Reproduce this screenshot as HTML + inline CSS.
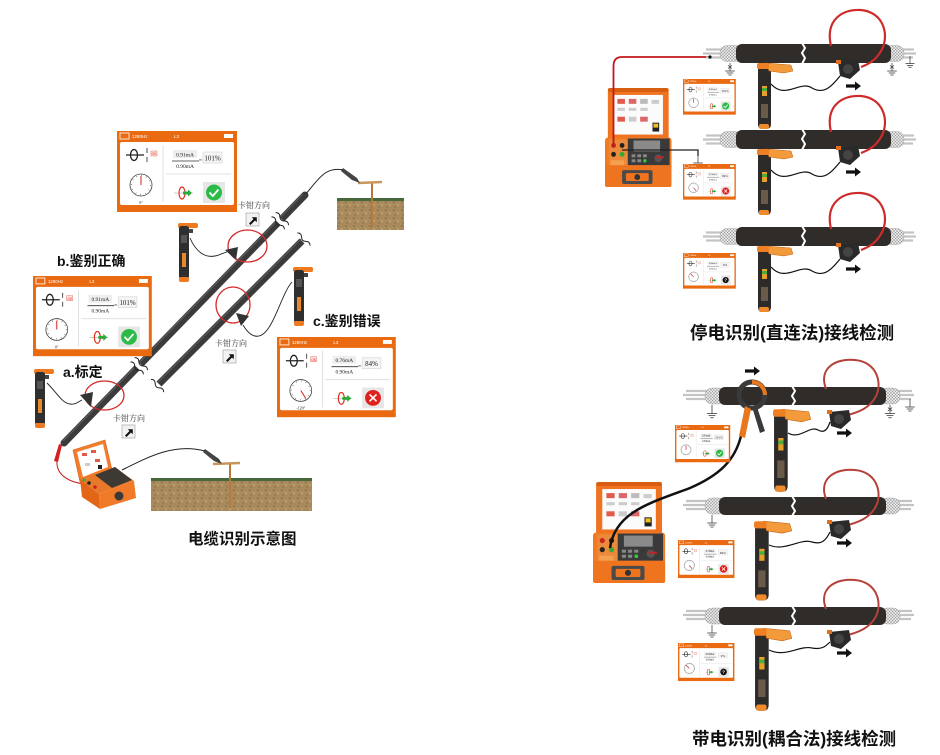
<!DOCTYPE html>
<html><head><meta charset="utf-8"><style>
html,body{margin:0;padding:0;background:#fff;}
svg{display:block;}
.cap{font-family:"Liberation Sans","Noto Sans CJK SC",sans-serif;font-weight:bold;fill:#111;}
.lab{font-family:"Liberation Sans","Noto Sans CJK SC",sans-serif;font-weight:bold;fill:#111;font-size:14px;}
.kq{font-family:"Liberation Serif","Noto Serif CJK SC",serif;font-size:8px;fill:#333;}
.st{font-family:"Liberation Serif",serif;fill:#222;}
.sh{font-family:"Liberation Sans",sans-serif;fill:#fff;}
</style></head><body>
<svg width="940" height="755" viewBox="0 0 940 755" xmlns="http://www.w3.org/2000/svg">
<defs>
 <pattern id="soil" width="8" height="8" patternUnits="userSpaceOnUse"><rect width="8" height="8" fill="#a88a5c"/><circle cx="2" cy="2" r="1" fill="#917449"/><circle cx="6" cy="5" r="1.2" fill="#bb9e70"/><circle cx="3" cy="7" r="0.8" fill="#8c6f45"/></pattern>
 <pattern id="hatch" width="3" height="3" patternUnits="userSpaceOnUse"><rect width="3" height="3" fill="#e6e6e6"/><path d="M0,0 L3,3 M3,0 L0,3" stroke="#999" stroke-width="0.5"/></pattern>
 <g id="scr">
  <rect width="120" height="81" fill="#ea6a12"/>
  <rect x="3" y="2" width="9" height="6" fill="none" stroke="#fff" stroke-width="0.8"/>
  <rect x="107" y="3" width="9" height="4" fill="#fff"/>
  <rect x="3" y="11" width="114" height="63" rx="2" fill="#fff"/>
  <line x1="46" y1="14" x2="46" y2="71" stroke="#e0e0e0"/>
  <line x1="49" y1="43" x2="114" y2="43" stroke="#e0e0e0"/>
  <ellipse cx="17" cy="24" rx="3.5" ry="5.5" fill="none" stroke="#222" stroke-width="1.3"/>
  <line x1="9" y1="24" x2="27" y2="24" stroke="#222" stroke-width="1.3"/>
  <line x1="30" y1="17" x2="30" y2="22" stroke="#222" stroke-width="0.8"/>
  <line x1="30" y1="26" x2="30" y2="31" stroke="#222" stroke-width="0.8"/>
  <rect x="34" y="20" width="6" height="5" fill="#fde4e0" stroke="#e05040" stroke-width="0.4"/>
  <circle cx="24" cy="54" r="11" fill="#fff" stroke="#444" stroke-width="0.8"/>
  <circle cx="24" cy="54" r="9.5" fill="none" stroke="#555" stroke-width="1.2" stroke-dasharray="0.6 4.37"/>
  <rect x="56" y="19" width="24" height="8" fill="#eee"/>
  <line x1="55" y1="30" x2="82" y2="30" stroke="#333" stroke-width="0.8"/>
  <rect x="86" y="21" width="19" height="11" fill="#f4f4f4" stroke="#ccc" stroke-width="0.5"/>
  <line x1="57" y1="62" x2="76" y2="62" stroke="#999" stroke-width="0.6"/>
  <ellipse cx="65" cy="62" rx="3" ry="6" fill="none" stroke="#e0301e" stroke-width="1.2"/>
  <path d="M66,60.5 H71 V58.5 L75,62 L71,65.5 V63.5 H66 Z" fill="#2caa3a"/>
  <rect x="86" y="51" width="22" height="21" fill="#e6e6e6"/>
 </g>
 <g id="ok"><circle cx="97" cy="61.5" r="8" fill="#2dbb48"/><path d="M92.5,61.5 L95.8,65 L101.5,58.5" stroke="#fff" stroke-width="1.8" fill="none"/></g>
 <g id="bad"><circle cx="97" cy="61.5" r="8" fill="#e0201c"/><path d="M93.5,58 L100.5,65 M100.5,58 L93.5,65" stroke="#fff" stroke-width="1.6"/></g>
 <g id="unk"><circle cx="97" cy="61.5" r="7" fill="#111"/></g>
 <g id="gnd"><line x1="0" y1="0" x2="0" y2="10" stroke="#333" stroke-width="0.9"/><path d="M-6,10 H6 M-4,12.5 H4 M-2,15 H2" stroke="#333" stroke-width="0.9"/></g>
 <g id="gndx"><use href="#gnd"/><path d="M-2.5,3 L2.5,7 M2.5,3 L-2.5,7" stroke="#333" stroke-width="0.8"/></g>
 <g id="arr"><path d="M0,-1.6 H9 V-4.5 L15,0 L9,4.5 V1.6 H0 Z" fill="#111"/></g>
 <g id="kbox"><rect x="0" y="0" width="13" height="13" fill="#f2f2f2" stroke="#999" stroke-width="0.6"/><path d="M3,10.5 L7.5,6 L5.8,4.2 H10.8 V9.2 L9,7.5 L4.5,12 Z" fill="#111"/></g>
 <g id="hhL">
  <rect x="1" y="0" width="20" height="5" rx="2" fill="#f07a20"/>
  <rect x="2" y="3" width="10" height="53" rx="2.5" fill="#2f2f2f"/>
  <rect x="4" y="12" width="6" height="8" fill="#555"/>
  <rect x="5" y="30" width="4" height="14" fill="#e88a2a"/>
  <rect x="2" y="54" width="10" height="5" rx="2" fill="#ee7a22"/>
  <rect x="12" y="6" width="4" height="4" fill="#444"/>
 </g>
 <g id="hhR">
  <path d="M1,4 H14 V62 Q14,67 9,67 H5 Q1,67 1,62 Z" fill="#2d2b29"/>
  <path d="M9,1 L34,3 L36,9 L27,11 L12,9 Z" fill="#f39a3a" stroke="#c06010" stroke-width="0.5"/>
  <rect x="0" y="1" width="12" height="6" rx="2" fill="#ee7f22"/>
  <rect x="5" y="24" width="5" height="10" fill="#e7a02a"/>
  <rect x="5" y="26" width="5" height="3" fill="#4caf3a"/>
  <rect x="4" y="42" width="7" height="14" fill="#6a5a4a"/>
  <rect x="2" y="62" width="10" height="5" rx="2" fill="#f08a2a"/>
 </g>
 <g id="sen"><path d="M2,2 L22,0 L24,10 L14,19 L4,16 Z" fill="#2a2a2a"/><circle cx="12" cy="9" r="5" fill="#444"/><rect x="0" y="0" width="5" height="4" fill="#e07020"/></g>
 <g id="ins">
  <rect x="3" y="0" width="64" height="52" rx="3" fill="#f07322"/>
  <rect x="3" y="0" width="64" height="4" rx="2" fill="#d85e12"/>
  <rect x="9" y="7" width="52" height="40" fill="#fbfbfb"/>
  <rect x="13" y="11" width="8" height="5" fill="#e35a4a"/><rect x="25" y="11" width="8" height="5" fill="#dd6666"/><rect x="37" y="11" width="8" height="5" fill="#bbb"/><rect x="49" y="12" width="8" height="4" fill="#ccc"/>
  <rect x="13" y="20" width="8" height="3" fill="#ccc"/><rect x="25" y="20" width="8" height="3" fill="#ccc"/><rect x="37" y="20" width="8" height="3" fill="#ccc"/>
  <rect x="13" y="29" width="8" height="5" fill="#e35a4a"/><rect x="25" y="29" width="8" height="5" fill="#ccc"/><rect x="37" y="29" width="8" height="5" fill="#dd6666"/>
  <rect x="50" y="35" width="7" height="9" fill="#222"/><rect x="51" y="36" width="5" height="4" fill="#f0c020"/>
  <rect x="0" y="50" width="70" height="50" rx="3" fill="#f27a22"/>
  <rect x="4" y="52" width="20" height="28" fill="#ea8a3a"/>
  <circle cx="9" cy="58" r="2.5" fill="#c22"/><circle cx="18" cy="58" r="2.5" fill="#222"/><circle cx="9" cy="67" r="2.5" fill="#222"/><circle cx="18" cy="67" r="2.5" fill="#3a3"/>
  <rect x="6" y="73" width="14" height="5" fill="#f5a050"/>
  <rect x="24" y="51" width="44" height="27" fill="#3a3a3a"/>
  <rect x="30" y="53" width="28" height="11" fill="#8a8a8a"/>
  <rect x="28" y="67" width="4" height="3" fill="#888"/><rect x="34" y="67" width="4" height="3" fill="#888"/><rect x="40" y="67" width="4" height="3" fill="#888"/><rect x="28" y="72" width="4" height="3" fill="#888"/><rect x="34" y="72" width="4" height="3" fill="#888"/><circle cx="42" cy="73.5" r="1.8" fill="#3c3"/><circle cx="56" cy="71" r="4" fill="#555"/><rect x="54" y="69" width="8" height="2" fill="#c22"/>
  <rect x="0" y="78" width="70" height="22" rx="2" fill="#ee7420"/>
  <rect x="18" y="83" width="32" height="14" rx="2" fill="#4a4a4a"/>
  <rect x="22" y="86" width="24" height="8" rx="1" fill="#ee7420"/>
  <circle cx="34" cy="90" r="3" fill="#333"/>
 </g>
 <g id="cabT">
  <path d="M706,49.5 H724 M703,53.5 H724 M706,57.5 H724" stroke="#c4c4c4" stroke-width="2.2"/>
  <path d="M898,49.5 H914 M898,53.5 H916 M898,57.5 H913" stroke="#c4c4c4" stroke-width="2.2"/>
  <rect x="720" y="45.5" width="22" height="16" rx="7" fill="url(#hatch)" stroke="#aaa" stroke-width="0.5"/>
  <rect x="884" y="45.5" width="20" height="16" rx="7" fill="url(#hatch)" stroke="#aaa" stroke-width="0.5"/>
  <rect x="736" y="44" width="155" height="19" rx="6" fill="#2f2c2a"/>
  <path d="M802,43 l3,5 l-3,5 l3,5 l-3,6" stroke="#fff" stroke-width="2" fill="none"/>
 </g>
 <g id="cabB">
  <path d="M686,391 H710 M683,395 H710 M686,399 H710" stroke="#c4c4c4" stroke-width="2.2"/>
  <path d="M896,391 H912 M896,395 H914 M896,399 H911" stroke="#c4c4c4" stroke-width="2.2"/>
  <rect x="705" y="388" width="21" height="16" rx="7" fill="url(#hatch)" stroke="#aaa" stroke-width="0.5"/>
  <rect x="880" y="388" width="20" height="16" rx="7" fill="url(#hatch)" stroke="#aaa" stroke-width="0.5"/>
  <rect x="719" y="387" width="167" height="18" rx="6" fill="#2f2c2a"/>
  <path d="M792,386 l3,5 l-3,5 l3,5 l-3,5" stroke="#fff" stroke-width="2" fill="none"/>
 </g>
</defs>

<rect width="940" height="755" fill="#fff"/>

<!-- ============ LEFT DIAGRAM ============ -->
<rect x="337" y="200" width="67" height="30" fill="url(#soil)"/>
<rect x="337" y="198" width="67" height="3" fill="#47683a"/>
<rect x="151" y="480" width="161" height="31" fill="url(#soil)"/>
<rect x="151" y="478" width="161" height="3" fill="#47683a"/>
<line x1="372" y1="182" x2="372" y2="228" stroke="#b5793a" stroke-width="2"/>
<line x1="358" y1="183" x2="382" y2="182" stroke="#c8955a" stroke-width="2.5"/>
<path d="M343,168 L357,178 L360,183 L352,180 L341,171 Z" fill="#444"/>
<path d="M305,195 C318,180 325,166 343,170" stroke="#222" stroke-width="1" fill="none"/>
<line x1="230" y1="463" x2="230" y2="508" stroke="#b5793a" stroke-width="2"/>
<line x1="213" y1="464" x2="240" y2="463" stroke="#c8955a" stroke-width="2.5"/>
<path d="M205,449 L219,459 L222,464 L214,461 L203,452 Z" fill="#444"/>
<path d="M122,470 C150,456 175,443 205,451" stroke="#222" stroke-width="1" fill="none"/>

<line x1="64" y1="443" x2="305" y2="195" stroke="#3b3b3b" stroke-width="7" stroke-linecap="round"/>
<line x1="63" y1="441" x2="303" y2="194" stroke="#5c5c5c" stroke-width="1.2"/>
<line x1="159" y1="384" x2="302" y2="241" stroke="#3b3b3b" stroke-width="7"/>
<line x1="158" y1="382" x2="301" y2="239" stroke="#5c5c5c" stroke-width="1.2"/>
<g transform="translate(139,366) rotate(-45.8)"><rect x="-2.5" y="-7" width="5" height="14" fill="#fff"/><path d="M-3,-9 q3,3 0,6 q-3,3 0,6 q3,3 0,6" stroke="#222" fill="none"/><path d="M3,-9 q3,3 0,6 q-3,3 0,6 q3,3 0,6" stroke="#222" fill="none"/></g>
<g transform="translate(280,221) rotate(-45.8)"><rect x="-2.5" y="-7" width="5" height="14" fill="#fff"/><path d="M-3,-9 q3,3 0,6 q-3,3 0,6 q3,3 0,6" stroke="#222" fill="none"/><path d="M3,-9 q3,3 0,6 q-3,3 0,6 q3,3 0,6" stroke="#222" fill="none"/></g>
<g transform="translate(158,385) rotate(-45)"><path d="M-1,-9 q3,3 0,6 q-3,3 0,6 q3,3 0,6" stroke="#222" fill="none"/></g>
<g transform="translate(303,240) rotate(-45)"><path d="M1,-9 q3,3 0,6 q-3,3 0,6 q3,3 0,6" stroke="#222" fill="none"/></g>

<path d="M57,460 C55,480 80,486 98,484" stroke="#c02020" stroke-width="1" fill="none"/>
<path d="M62,445 L58,462 L54,461 L59,444 Z" fill="#d42020"/>

<!-- left instrument -->
<polygon points="73,450 105,440 112,470 80,482" fill="#f47c2a" stroke="#d0601a" stroke-width="0.6"/>
<polygon points="77,452 103,444 108,467 83,477" fill="#fff"/>
<rect x="82" y="453" width="5" height="3" fill="#e35a4a"/><rect x="91" y="450" width="5" height="3" fill="#e35a4a"/><rect x="85" y="463" width="5" height="3" fill="#ccc"/><rect x="95" y="459" width="5" height="3" fill="#e35a4a"/><rect x="98" y="465" width="4" height="4" fill="#222"/>
<polygon points="80,479 115,467 134,481 99,494" fill="#e8782a"/>
<polygon points="95,475 115,467 132,480 112,488" fill="#3d3a36"/>
<circle cx="89" cy="483" r="1.8" fill="#222"/><circle cx="95" cy="487" r="1.8" fill="#c22"/><circle cx="84" cy="480" r="1.5" fill="#3a3"/>
<polygon points="80,479 99,494 100,509 82,497" fill="#e36618"/>
<polygon points="99,494 134,481 136,498 100,509" fill="#f07a28"/>
<circle cx="119" cy="496" r="4.5" fill="#3a3a3a"/>

<ellipse cx="104.5" cy="395.5" rx="19.5" ry="14.5" fill="none" stroke="#d42a2a" stroke-width="1.3"/>
<ellipse cx="247.5" cy="246" rx="19.5" ry="16" fill="none" stroke="#d42a2a" stroke-width="1.3"/>
<ellipse cx="233" cy="305" rx="17" ry="18" fill="none" stroke="#d42a2a" stroke-width="1.3"/>
<path d="M80,395 L93,392 L91,407 Z" fill="#333"/>
<path d="M225,250 L238,247 L236,260 Z" fill="#333"/>
<path d="M236,313 L249,316 L241,326 Z" fill="#333"/>
<path d="M47,383 C58,394 62,403 70,404 C75,405 78,402 82,400" stroke="#222" stroke-width="0.9" fill="none"/>
<path d="M190,238 C196,252 205,258 215,256 C220,255 223,253 227,252" stroke="#222" stroke-width="0.9" fill="none"/>
<path d="M292,282 C280,295 272,340 255,336 C250,335 246,330 243,325" stroke="#222" stroke-width="0.9" fill="none"/>
<use href="#hhL" transform="translate(33,369)"/>
<use href="#hhL" transform="translate(177,223)"/>
<use href="#hhL" transform="translate(292,267)"/>

<text class="kq" x="238" y="208">卡钳方向</text>
<use href="#kbox" transform="translate(246,213)"/>
<text class="kq" x="215" y="346">卡钳方向</text>
<use href="#kbox" transform="translate(223,350)"/>
<text class="kq" x="113" y="421">卡钳方向</text>
<use href="#kbox" transform="translate(122,425)"/>

<text class="lab" x="57" y="266">b.鉴别正确</text>
<text class="lab" x="63" y="377">a.标定</text>
<text class="lab" x="313" y="326">c.鉴别错误</text>
<text class="cap" x="188" y="544" font-size="15.5">电缆识别示意图</text>

<g transform="translate(117,131)">
 <use href="#scr"/>
 <text class="sh" x="15" y="7" font-size="4.5">1280Hz</text><text class="sh" x="57" y="7" font-size="4.5">L3</text>
 <text x="34.6" y="24" font-size="3.4" fill="#e03020" font-family="Liberation Sans">OK</text>
 <text class="st" x="68" y="25.5" font-size="5.5" text-anchor="middle">0.91mA</text>
 <text class="st" x="68" y="37" font-size="5.5" text-anchor="middle">0.90mA</text>
 <text class="st" x="83.5" y="31.5" font-size="6" text-anchor="middle">=</text>
 <text class="st" x="95.5" y="29.5" font-size="7" text-anchor="middle">101%</text>
 <text class="st" x="24" y="73" font-size="4" text-anchor="middle">0°</text>
 <line x1="24" y1="54" x2="24" y2="45" stroke="#d02020" stroke-width="1"/>
 <use href="#ok"/>
</g>
<g transform="translate(33,276) scale(0.99)">
 <use href="#scr"/>
 <text class="sh" x="15" y="7" font-size="4.5">1280Hz</text><text class="sh" x="57" y="7" font-size="4.5">L3</text>
 <text x="34.6" y="24" font-size="3.4" fill="#e03020" font-family="Liberation Sans">OK</text>
 <text class="st" x="68" y="25.5" font-size="5.5" text-anchor="middle">0.91mA</text>
 <text class="st" x="68" y="37" font-size="5.5" text-anchor="middle">0.90mA</text>
 <text class="st" x="83.5" y="31.5" font-size="6" text-anchor="middle">=</text>
 <text class="st" x="95.5" y="29.5" font-size="7" text-anchor="middle">101%</text>
 <text class="st" x="24" y="73" font-size="4" text-anchor="middle">0°</text>
 <line x1="24" y1="54" x2="24" y2="45" stroke="#d02020" stroke-width="1"/>
 <use href="#ok"/>
</g>
<g transform="translate(277,337) scale(0.99)">
 <use href="#scr"/>
 <text class="sh" x="15" y="7" font-size="4.5">1280Hz</text><text class="sh" x="57" y="7" font-size="4.5">L3</text>
 <text x="34.6" y="24" font-size="3.4" fill="#e03020" font-family="Liberation Sans">OK</text>
 <text class="st" x="68" y="25.5" font-size="5.5" text-anchor="middle">0.76mA</text>
 <text class="st" x="68" y="37" font-size="5.5" text-anchor="middle">0.90mA</text>
 <text class="st" x="83.5" y="31.5" font-size="6" text-anchor="middle">=</text>
 <text class="st" x="95.5" y="29.5" font-size="7" text-anchor="middle">84%</text>
 <text class="st" x="24" y="73" font-size="4" text-anchor="middle">-120°</text>
 <line x1="24" y1="54" x2="29" y2="62" stroke="#d02020" stroke-width="1"/>
 <use href="#bad"/>
</g>

<!-- ============ RIGHT TOP ============ -->
<use href="#ins" transform="translate(605,88) scale(0.95,0.99)"/>
<path d="M613.5,147 V66 Q613.5,57 622,57 H709" stroke="#c01818" stroke-width="1.8" fill="none"/>
<path d="M622,150 H698 V156" stroke="#222" stroke-width="1.3" fill="none"/>
<use href="#gnd" transform="translate(698,155) scale(0.8)"/>

<g id="rowT">
 <use href="#cabT"/>
 <path d="M831,46 C825,20 842,9 861,10 C884,12 890,36 881,51 C876,60 869,64 861,67" stroke="#cf2b2b" stroke-width="2.2" fill="none"/>
 <use href="#sen" transform="translate(836,60)"/>
 <path d="M771,84 C785,100 800,80 812,88 C824,95 832,86 840,76" stroke="#111" stroke-width="1.2" fill="none"/>
 <use href="#arr" transform="translate(846,86)"/>
 <use href="#hhR" transform="translate(757,62)"/>
</g>
<use href="#rowT" transform="translate(0,86)"/>
<use href="#rowT" transform="translate(0,183)"/>
<circle cx="710" cy="57" r="1.6" fill="#111"/>
<use href="#gndx" transform="translate(730,63) scale(0.8)"/>
<use href="#gndx" transform="translate(892,63) scale(0.8)"/>
<use href="#gnd" transform="translate(910,56) scale(0.75)"/>

<g transform="translate(683,79) scale(0.44)">
 <use href="#scr"/>
 <text class="sh" x="15" y="7" font-size="4.5">1280Hz</text><text class="sh" x="57" y="7" font-size="4.5">L3</text>
 <text class="st" x="68" y="25.5" font-size="5.5" text-anchor="middle">0.91mA</text>
 <text class="st" x="68" y="37" font-size="5.5" text-anchor="middle">0.90mA</text>
 <text class="st" x="95.5" y="29.5" font-size="7" text-anchor="middle">101%</text>
 <line x1="24" y1="54" x2="24" y2="45" stroke="#d02020" stroke-width="1.5"/>
 <use href="#ok"/>
</g>
<g transform="translate(683,164) scale(0.44)">
 <use href="#scr"/>
 <text class="sh" x="15" y="7" font-size="4.5">1280Hz</text><text class="sh" x="57" y="7" font-size="4.5">L3</text>
 <text class="st" x="68" y="25.5" font-size="5.5" text-anchor="middle">0.76mA</text>
 <text class="st" x="68" y="37" font-size="5.5" text-anchor="middle">0.90mA</text>
 <text class="st" x="95.5" y="29.5" font-size="7" text-anchor="middle">84%</text>
 <line x1="24" y1="54" x2="30" y2="61" stroke="#d02020" stroke-width="1.5"/>
 <use href="#bad"/>
</g>
<g transform="translate(683,253) scale(0.44)">
 <use href="#scr"/>
 <text class="sh" x="15" y="7" font-size="4.5">1280Hz</text><text class="sh" x="57" y="7" font-size="4.5">L3</text>
 <text class="st" x="68" y="25.5" font-size="5.5" text-anchor="middle">0.00mA</text>
 <text class="st" x="68" y="37" font-size="5.5" text-anchor="middle">0.90mA</text>
 <text class="st" x="95.5" y="29.5" font-size="7" text-anchor="middle">0%</text>
 <line x1="24" y1="54" x2="17" y2="47" stroke="#d02020" stroke-width="1.5"/>
 <use href="#unk"/><text x="97" y="65" font-size="10" fill="#fff" text-anchor="middle" font-family="Liberation Sans" font-weight="bold">?</text>
</g>
<text class="cap" x="690" y="339" font-size="17.5">停电识别(直连法)接线检测</text>

<!-- ============ RIGHT BOTTOM ============ -->
<use href="#ins" transform="translate(593,482) scale(1.03,1.01)"/>
<g id="rowB">
 <use href="#cabB"/>
 <path d="M826,389 C818,368 836,358 855,360 C878,362 883,385 875,398 C869,408 859,412 848,415" stroke="#b4413a" stroke-width="2" fill="none"/>
 <use href="#sen" transform="translate(827,410)"/>
 <use href="#arr" transform="translate(837,433)"/>
</g>
<use href="#rowB" transform="translate(0,110)"/>
<use href="#rowB" transform="translate(0,220)"/>
<path d="M788,433 C800,440 810,425 818,430 C825,434 828,428 830,422" stroke="#111" stroke-width="1.2" fill="none"/>
<path d="M769,545 C785,552 800,538 812,542 C822,545 826,540 830,532" stroke="#111" stroke-width="1.2" fill="none"/>
<path d="M769,650 C785,658 800,645 812,648 C822,650 826,646 830,642" stroke="#111" stroke-width="1.2" fill="none"/>
<use href="#hhR" transform="translate(773,408) scale(1.05,1.25)"/>
<use href="#hhR" transform="translate(754,520) scale(1.05,1.2)"/>
<use href="#hhR" transform="translate(754,627) scale(1.05,1.25)"/>
<use href="#gnd" transform="translate(712,405) scale(0.85)"/>
<use href="#gndx" transform="translate(890,405) scale(0.85)"/>
<use href="#gnd" transform="translate(910,399) scale(0.8)"/>
<use href="#gnd" transform="translate(712,515) scale(0.8)"/>
<use href="#gnd" transform="translate(712,625) scale(0.8)"/>
<path d="M741,436 C735,460 720,475 690,488 C650,503 615,512 610,548" stroke="#111" stroke-width="2.5" fill="none"/>
<circle cx="752" cy="395" r="13" fill="none" stroke="#3a3a3a" stroke-width="5"/>
<path d="M752,382 A13,13 0 0 1 765,395" stroke="#e8781e" stroke-width="4" fill="none"/>
<path d="M745,406 L739,436 L745,438 L751,409 Z" fill="#e8781e"/>
<path d="M757,407 L765,431 L760,433 L753,410 Z" fill="#3a3a3a"/>
<use href="#arr" transform="translate(745,371)"/>

<g transform="translate(675,425) scale(0.46)">
 <use href="#scr"/>
 <text class="sh" x="15" y="7" font-size="4.5">1280Hz</text><text class="sh" x="57" y="7" font-size="4.5">L3</text>
 <text class="st" x="68" y="25.5" font-size="5.5" text-anchor="middle">0.91mA</text>
 <text class="st" x="68" y="37" font-size="5.5" text-anchor="middle">0.90mA</text>
 <text class="st" x="95.5" y="29.5" font-size="7" text-anchor="middle">101%</text>
 <line x1="24" y1="54" x2="24" y2="45" stroke="#d02020" stroke-width="1.5"/>
 <use href="#ok"/>
</g>
<g transform="translate(678,540) scale(0.47)">
 <use href="#scr"/>
 <text class="sh" x="15" y="7" font-size="4.5">1280Hz</text><text class="sh" x="57" y="7" font-size="4.5">L3</text>
 <text class="st" x="68" y="25.5" font-size="5.5" text-anchor="middle">0.76mA</text>
 <text class="st" x="68" y="37" font-size="5.5" text-anchor="middle">0.90mA</text>
 <text class="st" x="95.5" y="29.5" font-size="7" text-anchor="middle">84%</text>
 <line x1="24" y1="54" x2="30" y2="61" stroke="#d02020" stroke-width="1.5"/>
 <use href="#bad"/>
</g>
<g transform="translate(678,643) scale(0.47)">
 <use href="#scr"/>
 <text class="sh" x="15" y="7" font-size="4.5">1280Hz</text><text class="sh" x="57" y="7" font-size="4.5">L3</text>
 <text class="st" x="68" y="25.5" font-size="5.5" text-anchor="middle">0.00mA</text>
 <text class="st" x="68" y="37" font-size="5.5" text-anchor="middle">0.90mA</text>
 <text class="st" x="95.5" y="29.5" font-size="7" text-anchor="middle">0%</text>
 <line x1="24" y1="54" x2="17" y2="47" stroke="#d02020" stroke-width="1.5"/>
 <use href="#unk"/><text x="97" y="65" font-size="10" fill="#fff" text-anchor="middle" font-family="Liberation Sans" font-weight="bold">?</text>
</g>
<text class="cap" x="692" y="745" font-size="17.5">带电识别(耦合法)接线检测</text>
</svg>
</body></html>
